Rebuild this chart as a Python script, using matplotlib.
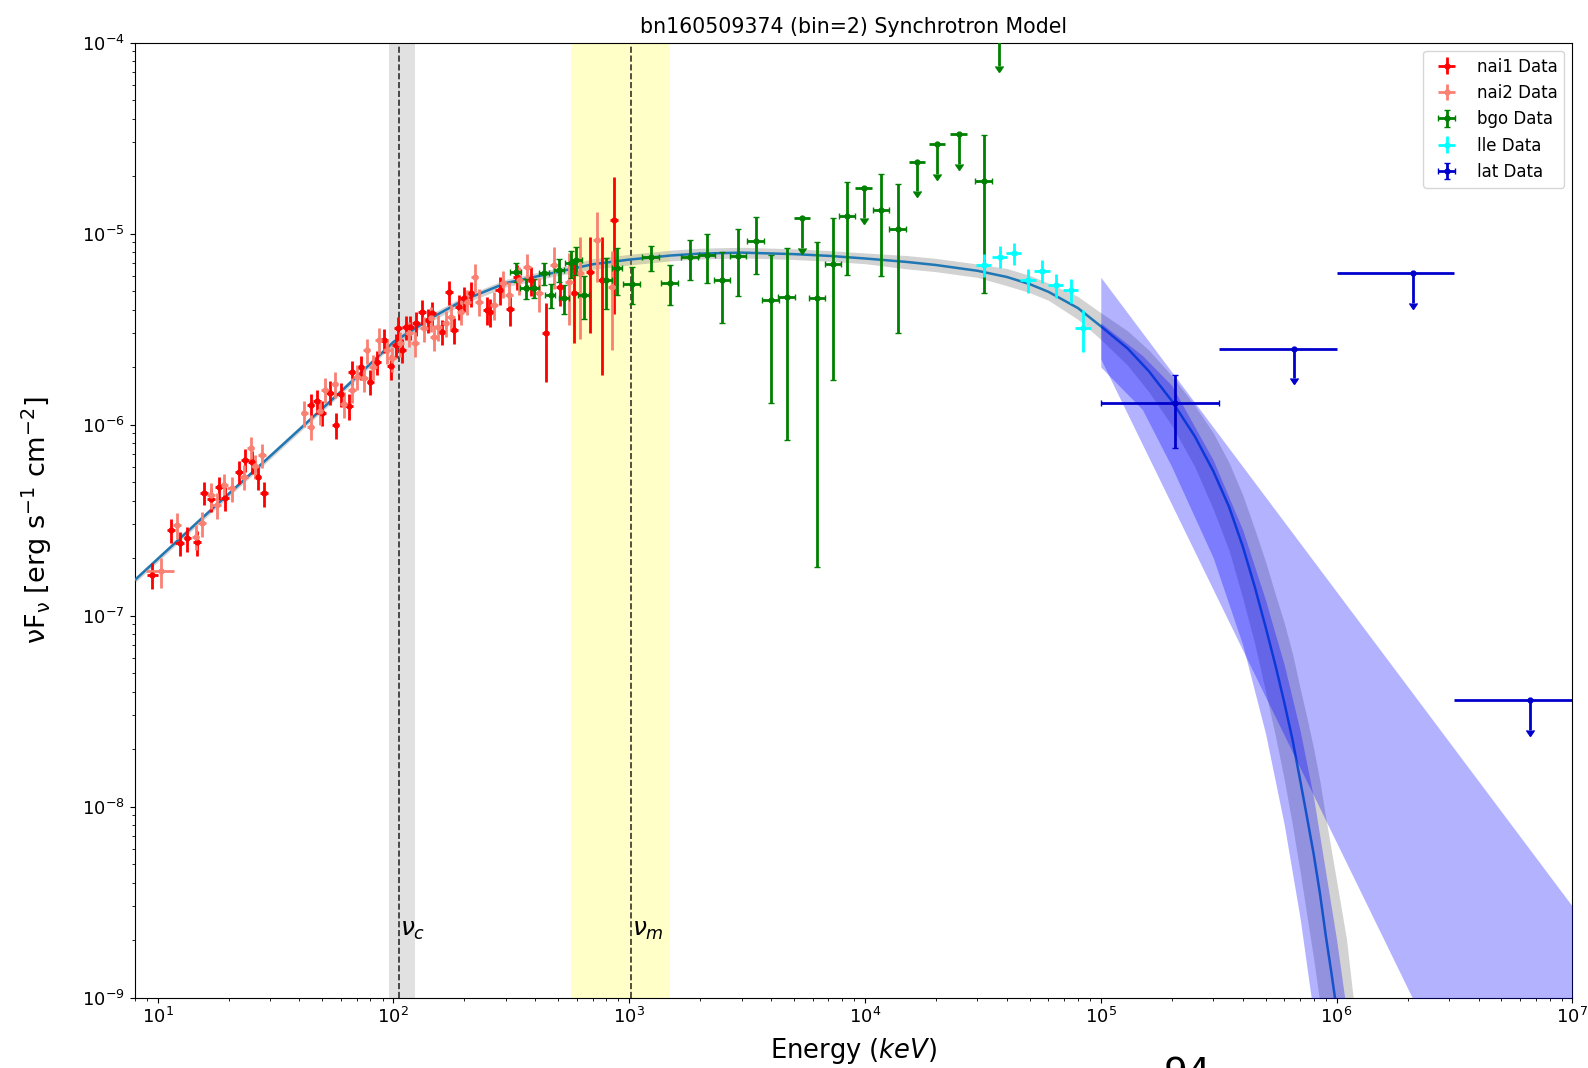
import numpy as np
import matplotlib.pyplot as plt

# ---- nai1 (red) ----
nai1_e = [9.5, 11.4, 12.4, 13.4, 14.7, 15.8, 16.9, 18.2, 19.4, 22.1, 23.6, 25.1, 26.6, 28.2,
          44.6, 47.5, 49.9, 53.8, 56.9, 59.7, 64.7, 66.5, 72.6, 80, 85.5, 91.2, 97.3, 103, 104.5,
          109, 112.7, 118, 125.3, 132.5, 140, 146, 161, 171.8, 180.6, 189.6, 199, 212.5, 248.6,
          258, 282, 312, 335, 382, 442, 509, 586, 681, 769, 861]
nai1_eerr = [0.5, 0.45, 0.5, 0.5, 0.55, 0.6, 0.65, 0.7, 0.75, 0.85, 0.9, 0.95, 1.0, 1.1,
             1.7, 1.8, 1.9, 2.0, 2.2, 2.3, 2.5, 2.5, 2.8, 3.0, 3.2, 3.5, 3.7, 3.9, 4.0,
             4.1, 4.3, 4.5, 4.8, 5.0, 5.3, 5.5, 6.1, 6.5, 6.9, 7.2, 7.6, 8.1, 9.4,
             9.8, 11, 12, 13, 15, 17, 19, 22, 26, 29, 33]
nai1_f = [1.63, 2.8, 2.39, 2.54, 2.42, 4.4, 4.07, 4.69, 4.11, 5.66, 6.52, 6.38, 5.33, 4.37,
          12.7, 13.2, 11.5, 14.7, 9.93, 14.4, 12.5, 18.8, 20.0, 16.7, 21.3, 27.7, 20.2, 26.1, 31.9,
          24.5, 32.4, 32.4, 33.9, 39.0, 35.2, 38.2, 30.6, 49.5, 31.3, 41.4, 45.8, 48.6, 39.8,
          39.0, 50.6, 40.1, 59.4, 57.1, 30.0, 52.7, 48.6, 63.1, 57.1, 118]
nai1_ferr = [0.25, 0.4, 0.35, 0.38, 0.36, 0.6, 0.6, 0.65, 0.6, 0.8, 0.9, 0.9, 0.8, 0.65,
             1.8, 1.9, 1.7, 2.1, 1.5, 2.1, 1.9, 2.7, 2.9, 2.5, 3.1, 4.0, 3.0, 3.8, 4.6,
             3.6, 4.7, 4.7, 5.0, 5.7, 5.2, 5.6, 4.6, 7.2, 4.8, 6.2, 6.8, 7.3, 6.5,
             6.5, 8.5, 7.5, 9.0, 10, 13.3, 11, 22, 33, 39, 80]

# ---- nai2 (salmon) ----
nai2_e = [10.3, 12.1, 14.5, 15.4, 16.8, 17.8, 19.1, 20.6, 23.2, 24.8, 26.0, 27.8,
          42, 44.6, 49, 51.5, 56.3, 61.7, 66.9, 69.9, 75, 77, 82.2, 86.9, 94.2, 98.9, 107,
          116.4, 124, 134.6, 143.8, 148.6, 154.5, 166.5, 175.8, 192.7, 205.6, 221, 230.6,
          266.8, 292, 309, 341, 370, 414, 480, 555, 618, 731, 848]
nai2_eerr = [1.4, 0.5, 0.55, 0.6, 0.65, 0.7, 0.75, 0.8, 0.9, 0.95, 1.0, 1.05,
             1.6, 1.7, 1.9, 2.0, 2.1, 2.3, 2.5, 2.7, 2.9, 2.9, 3.1, 3.3, 3.6, 3.8, 4.1,
             4.4, 4.7, 5.1, 5.5, 5.6, 5.9, 6.3, 6.7, 7.3, 7.8, 8.4, 8.8,
             10, 11, 12, 13, 14, 16, 18, 21, 23, 28, 32]
nai2_f = [1.7, 2.98, 2.59, 3.04, 4.28, 3.8, 4.82, 4.64, 5.33, 7.5, 6.06, 6.92,
          11.5, 9.75, 11.7, 15.2, 16.3, 12.8, 15.2, 17.8, 17.5, 24.5, 20.0, 27.7, 24.5, 22.2, 26.6,
          30.0, 26.6, 31.9, 36.0, 28.8, 32.5, 33.9, 36.6, 39.0, 44.0, 59.4, 44.0,
          42.2, 54.8, 47.6, 57.0, 67.0, 48.6, 68.4, 56.0, 62.0, 92.5, 52.7]
nai2_ferr = [0.3, 0.45, 0.4, 0.45, 0.65, 0.6, 0.7, 0.7, 0.8, 1.1, 0.9, 1.0,
             1.8, 1.5, 1.8, 2.3, 2.5, 2.0, 2.3, 2.7, 2.7, 3.7, 3.0, 4.2, 3.7, 3.4, 4.0,
             4.5, 4.0, 4.8, 5.4, 4.4, 5.0, 5.2, 5.5, 6.0, 6.6, 10, 7.0,
             7.0, 9.0, 8.0, 9.5, 11, 10, 17, 23, 34, 37, 28]

# ---- bgo (green) ----
bgo_e = [330, 364, 394, 435, 464, 504, 529, 564, 598, 642, 801, 889, 1030, 1233, 1489, 1808,
         2143, 2483, 2904, 3439, 3981, 4656, 6280, 7330, 8400, 11700, 13800, 31900]
bgo_eerr = [17, 19, 20, 22, 23, 25, 27, 29, 31, 33, 41, 46, 85, 100, 120, 145,
            170, 200, 230, 275, 320, 370, 500, 580, 670, 930, 1100, 2600]
bgo_f = [6.3, 5.16, 5.2, 6.2, 4.76, 6.44, 4.58, 6.98, 7.26, 4.76, 5.71, 6.57, 5.45, 7.5, 5.53, 7.5,
         7.7, 5.7, 7.6, 9.17, 4.49, 4.63, 4.58, 6.9, 12.4, 13.3, 10.6, 18.9]
bgo_ferr = [0.7, 0.6, 0.6, 0.8, 0.7, 0.9, 0.8, 1.1, 1.2, 1.2, 1.7, 1.8, 1.2, 1.1, 1.3, 1.8,
            2.2, 2.3, 2.9, 3.0, 3.2, 3.8, 4.4, 5.2, 6.3, 7.3, 7.6, 14]
# bgo upper limits (units of 1e-5)
bgo_ul_e = [5420, 9890, 16700, 20200, 25000, 37000]
bgo_ul_eerr = [430, 790, 1340, 1600, 2000, 3000]
bgo_ul_f = [1.2, 1.73, 2.38, 2.94, 3.32, 10.7]

# ---- lle (cyan) ----
lle_e = [31900, 37300, 42900, 49300, 56500, 64300, 74500, 84300]
lle_eerr = [2400, 2800, 3200, 3700, 4200, 4800, 5600, 6300]
lle_f = [6.84, 7.57, 7.87, 5.71, 6.38, 5.37, 5.06, 3.2]
lle_ferr = [0.95, 1.0, 1.05, 0.8, 0.9, 0.75, 0.75, 0.8]

# ---- lat (blue) ----
lat_e = [2.07e5]
lat_eerr = [[1.07e5], [1.09e5]]
lat_f = [1.3e-6]
lat_ferr = [[5.5e-7], [5.1e-7]]
lat_ul_e = [6.6e5, 2.1e6, 6.6e6]
lat_ul_eerr = [[3.42e5, 1.1e6, 3.44e6], [3.4e5, 1.06e6, 3.4e6]]
lat_ul_f = [2.5e-6, 6.2e-6, 3.6e-8]

# ---- synchrotron model curve and its band ----
model_e = [8, 15, 30, 60, 100, 150, 200, 300, 500, 700, 1e3, 1.5e3, 2e3, 3e3, 5e3, 7e3,
           1e4, 1.5e4, 2e4, 3e4, 4e4, 5e4, 6e4, 8e4, 1e5, 1.3e5, 1.6e5, 2e5, 2.5e5, 3e5,
           3.5e5, 4e5, 4.5e5, 5e5, 5.5e5, 6e5, 6.5e5, 7e5, 7.5e5, 8e5, 8.5e5, 9e5, 9.5e5,
           1e6, 1.1e6, 1.2e6]
model_f = [1.53e-7, 3.13e-7, 6.82e-7, 1.49e-6, 2.7e-6, 3.7e-6, 4.5e-6, 5.5e-6, 6.3e-6, 6.9e-6,
           7.3e-6, 7.67e-6, 7.85e-6, 7.94e-6, 7.8e-6, 7.64e-6, 7.4e-6, 7.1e-6, 6.84e-6, 6.38e-6,
           5.92e-6, 5.43e-6, 4.95e-6, 4.07e-6, 3.27e-6, 2.5e-6, 1.9e-6, 1.33e-6, 8.7e-7, 5.7e-7,
           3.7e-7, 2.3e-7, 1.41e-7, 8.7e-8, 5.5e-8, 3.5e-8, 2.24e-8, 1.38e-8, 8.7e-9, 5.6e-9,
           3.5e-9, 2.1e-9, 1.35e-9, 8.7e-10, 3.9e-10, 1.8e-10]
band_hi = [1.585e-7, 3.24e-7, 7.06e-7, 1.545e-6, 2.79e-6, 3.89e-6, 4.71e-6, 5.75e-6, 6.61e-6,
           7.38e-6, 7.78e-6, 8.18e-6, 8.38e-6, 8.47e-6, 8.32e-6, 8.15e-6, 7.91e-6, 7.67e-6,
           7.41e-6, 6.92e-6, 6.56e-6, 6.03e-6, 5.5e-6, 4.68e-6, 3.85e-6, 3.09e-6, 2.45e-6,
           1.8e-6, 1.26e-6, 9.02e-7, 6.31e-7, 4.27e-7, 2.82e-7, 1.91e-7, 1.29e-7, 9.12e-8,
           6.31e-8, 4.17e-8, 2.88e-8, 2.0e-8, 1.35e-8, 8.7e-9, 5.9e-9, 4.07e-9, 2.04e-9, 8e-10]
band_lo = [1.479e-7, 3.02e-7, 6.59e-7, 1.442e-6, 2.61e-6, 3.55e-6, 4.3e-6, 5.25e-6, 6.03e-6,
           6.49e-6, 6.84e-6, 7.19e-6, 7.36e-6, 7.45e-6, 7.31e-6, 7.16e-6, 6.95e-6, 6.53e-6,
           6.31e-6, 5.89e-6, 5.33e-6, 4.9e-6, 4.47e-6, 3.55e-6, 2.79e-6, 2.04e-6, 1.48e-6,
           9.89e-7, 6.03e-7, 3.59e-7, 2.19e-7, 1.23e-7, 7.08e-8, 3.98e-8, 2.34e-8, 1.38e-8,
           7.94e-9, 4.57e-9, 2.63e-9, 1.58e-9, 9.3e-10, 5.2e-10, 3.1e-10, 1.9e-10, 7.4e-11, 3e-11]

# ---- lat bands ----
latband_e = [1e5, 1e7]
latband_hi = [5.9e-6, 3.0e-9]
latband_lo = [2.2e-6, 1.9e-11]
latcut_e = [1e5, 1.5e5, 2e5, 3e5, 4e5, 5e5, 6e5, 7e5, 8e5, 1e6, 1.2e6]
latcut_hi = [3.4e-6, 2.3e-6, 1.6e-6, 6.5e-7, 2.8e-7, 1.2e-7, 5.5e-8, 2.5e-8, 1.1e-8, 2e-9, 4e-10]
latcut_lo = [2.0e-6, 1.2e-6, 6.0e-7, 2.0e-7, 7e-8, 2.4e-8, 8e-9, 2.6e-9, 8e-10, 1e-10, 1e-11]

# characteristic frequencies (keV)
nu_c, nu_c_lo, nu_c_hi = 106, 96, 124
nu_m, nu_m_lo, nu_m_hi = 1021, 564, 1486

ul_arrow = 0.3  # length of upper-limit arrows (fraction of value)

fig = plt.figure(figsize=(15.88, 10.68), dpi=100)
ax = fig.add_axes([0.0848, 0.066, 0.9054, 0.8942])

ax.axvspan(nu_c_lo, nu_c_hi, color='grey', alpha=0.23, lw=0, zorder=0)
ax.axvline(nu_c, color='k', ls='--', lw=1.2, alpha=0.8, zorder=1)
ax.axvspan(nu_m_lo, nu_m_hi, color='yellow', alpha=0.22, lw=0, zorder=0)
ax.axvline(nu_m, color='k', ls='--', lw=1.2, alpha=0.8, zorder=1)
ax.text(nu_c * 1.01, 2.1e-9, r'$\nu_c$', fontsize=18)
ax.text(nu_m * 1.01, 2.1e-9, r'$\nu_m$', fontsize=18)

ax.fill_between(model_e, band_lo, band_hi, color='grey', alpha=0.35, lw=0, zorder=2)
ax.plot(model_e, model_f, color='#1f77b4', lw=1.8, zorder=3)

ax.fill_between(latband_e, latband_lo, latband_hi, color='blue', alpha=0.3, lw=0, zorder=4)
ax.fill_between(latcut_e, latcut_lo, latcut_hi, color='blue', alpha=0.3, lw=0, zorder=4)

kw = dict(fmt='o', ms=3.5, elinewidth=2, zorder=5)
ax.errorbar(nai1_e, np.array(nai1_f) * 1e-7, xerr=nai1_eerr,
            yerr=np.array(nai1_ferr) * 1e-7, color='red', label='nai1 Data', **kw)
ax.errorbar(nai2_e, np.array(nai2_f) * 1e-7, xerr=nai2_eerr,
            yerr=np.array(nai2_ferr) * 1e-7, color='salmon', label='nai2 Data', **kw)
ax.errorbar(bgo_e, np.array(bgo_f) * 1e-6, xerr=bgo_eerr,
            yerr=np.array(bgo_ferr) * 1e-6, color='green', capsize=2, capthick=1,
            label='bgo Data', **kw)
ul_f = np.array(bgo_ul_f) * 1e-5
ax.errorbar(bgo_ul_e, ul_f, xerr=bgo_ul_eerr, yerr=ul_f * ul_arrow, uplims=True,
            color='green', **kw)
ax.errorbar(lle_e, np.array(lle_f) * 1e-6, xerr=lle_eerr,
            yerr=np.array(lle_ferr) * 1e-6, color='cyan', label='lle Data', **kw)
ax.errorbar(lat_e, lat_f, xerr=lat_eerr, yerr=lat_ferr, color='mediumblue', capsize=2,
            capthick=1, label='lat Data', **kw)
ax.errorbar(lat_ul_e, lat_ul_f, xerr=lat_ul_eerr, yerr=np.array(lat_ul_f) * ul_arrow,
            uplims=True, color='mediumblue', **kw)

ax.set_xscale('log')
ax.set_yscale('log')
ax.set_xlim(8, 1e7)
ax.set_ylim(1e-9, 1e-4)
ax.tick_params(labelsize=13)
ax.set_title('bn160509374 (bin=2) Synchrotron Model', fontsize=14.8, pad=7)
ax.set_xlabel('Energy ($keV$)', fontsize=18.5, labelpad=6)
ax.set_ylabel(r'$\mathregular{\nu}$F$_\mathregular{\nu}$ [erg s$^{-1}$ cm$^{-2}$]',
              fontsize=19.5, labelpad=20)
ax.legend(loc='upper right', fontsize=12)

fig.text(0.748, 0.0106, '94', fontsize=27, ha='center', va='top')

fig.savefig('out.png')
